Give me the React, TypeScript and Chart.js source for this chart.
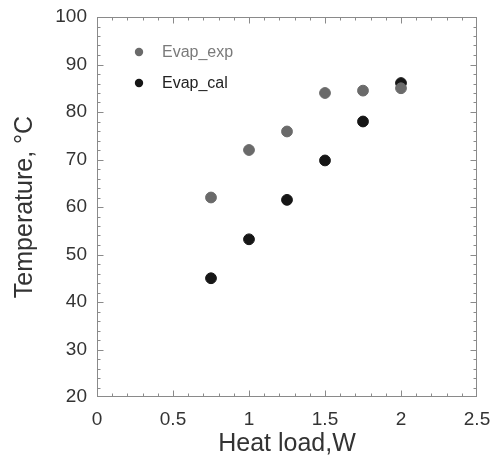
import React, { useEffect, useRef } from "react";
import { Chart, registerables } from "chart.js";

Chart.register(...registerables);

const heatLoad = [0.75, 1.0, 1.25, 1.5, 1.75, 2.0];
const evapExp = [62, 72, 75.9, 84, 84.5, 85];
const evapCal = [45, 53.2, 61.5, 69.8, 78, 86.1];

const seriesNames = ["Evap_exp", "Evap_cal"];
const seriesColors = ["#6a6a6a", "#161616"];
const legendTextColors = ["#7a7a7a", "#222222"];

const xMin = 0, xMax = 2.5, xMajor = 0.5, xMinor = 0.1;
const yMin = 20, yMax = 100, yMajor = 10, yMinor = 2;

const innerTicks = {
  id: "innerTicks",
  afterDraw(chart: any) {
    const { ctx, chartArea } = chart;
    const xs = chart.scales.x;
    const ys = chart.scales.y;
    const L = Math.round(chartArea.left) + 0.5;
    const R = Math.round(chartArea.right) - 0.5;
    const T = Math.round(chartArea.top) + 0.5;
    const B = Math.round(chartArea.bottom) - 0.5;
    ctx.save();
    ctx.strokeStyle = "#8a8a8a";
    ctx.lineWidth = 1;
    ctx.strokeRect(L, T, R - L, B - T);
    const nx = Math.round((xMax - xMin) / xMinor);
    for (let i = 1; i < nx; i++) {
      const v = xMin + i * xMinor;
      const major = Math.abs(v / xMajor - Math.round(v / xMajor)) < 1e-6;
      const len = major ? 6 : 3;
      const px = Math.round(xs.getPixelForValue(v)) + 0.5;
      ctx.beginPath();
      ctx.moveTo(px, B); ctx.lineTo(px, B - len);
      ctx.moveTo(px, T); ctx.lineTo(px, T + len);
      ctx.stroke();
    }
    const ny = Math.round((yMax - yMin) / yMinor);
    for (let i = 1; i < ny; i++) {
      const v = yMin + i * yMinor;
      const major = Math.abs(v / yMajor - Math.round(v / yMajor)) < 1e-6;
      const len = major ? 6 : 3;
      const py = Math.round(ys.getPixelForValue(v)) + 0.5;
      ctx.beginPath();
      ctx.moveTo(L, py); ctx.lineTo(L + len, py);
      ctx.moveTo(R, py); ctx.lineTo(R - len, py);
      ctx.stroke();
    }
    ctx.font = "16px 'Liberation Sans', Arial, sans-serif";
    ctx.textBaseline = "middle";
    ctx.textAlign = "left";
    const lx = chartArea.left + 42;
    const ly0 = chartArea.top + 35;
    const gap = 31;
    seriesNames.forEach((name, i) => {
      const y = ly0 + i * gap;
      ctx.fillStyle = seriesColors[i];
      ctx.beginPath();
      ctx.arc(lx, y, 4.2, 0, Math.PI * 2);
      ctx.fill();
      ctx.fillStyle = legendTextColors[i];
      ctx.fillText(name, lx + 23, y + 1);
    });
    ctx.restore();
  },
};

function noPad(scale: any) {
  scale.paddingTop = 0;
  scale.paddingBottom = 0;
  scale.paddingLeft = 0;
  scale.paddingRight = 0;
}

export default function App() {
  const ref = useRef<HTMLCanvasElement | null>(null);
  useEffect(() => {
    if (!ref.current) return;
    const font = "'Liberation Sans', Arial, sans-serif";
    const chart = new Chart(ref.current, {
      type: "scatter",
      data: {
        datasets: [
          {
            label: seriesNames[0],
            data: heatLoad.map((x, i) => ({ x, y: evapExp[i] })),
            backgroundColor: seriesColors[0],
            borderColor: seriesColors[0],
            pointRadius: 5.4,
            pointHoverRadius: 5.4,
          },
          {
            label: seriesNames[1],
            data: heatLoad.map((x, i) => ({ x, y: evapCal[i] })),
            backgroundColor: seriesColors[1],
            borderColor: seriesColors[1],
            pointRadius: 5.4,
            pointHoverRadius: 5.4,
          },
        ],
      },
      options: {
        animation: false,
        responsive: true,
        maintainAspectRatio: false,
        layout: { padding: { top: 17, right: 22, left: 0, bottom: 0 } },
        plugins: { legend: { display: false }, tooltip: { enabled: false } },
        scales: {
          x: {
            type: "linear",
            min: xMin,
            max: xMax,
            border: { display: false },
            grid: { display: false, drawTicks: false },
            ticks: {
              stepSize: xMajor,
              padding: 11,
              color: "#333333",
              font: { family: font, size: 19 },
              callback: (v: any) => String(Number(v)),
            },
            title: {
              display: true,
              text: "Heat load,W",
              color: "#333333",
              font: { family: font, size: 25 },
              padding: { top: 0, bottom: 0 },
            },
            afterFit(scale: any) {
              scale.height = 62;
              noPad(scale);
            },
          },
          y: {
            type: "linear",
            min: yMin,
            max: yMax,
            border: { display: false },
            grid: { display: false, drawTicks: false },
            ticks: {
              stepSize: yMajor,
              padding: 10,
              color: "#333333",
              font: { family: font, size: 19 },
              callback: (v: any) => String(Number(v)),
            },
            title: {
              display: true,
              text: "Temperature, °C",
              color: "#333333",
              font: { family: font, size: 25 },
              padding: { top: 10, bottom: 0 },
            },
            afterFit(scale: any) {
              scale.width = 97;
              noPad(scale);
            },
          },
        },
      },
      plugins: [innerTicks],
    });
    return () => chart.destroy();
  }, []);
  return (
    <div style={{ position: "absolute", left: 0, top: 0, width: 499, height: 459, background: "#fff" }}>
      <canvas ref={ref} />
    </div>
  );
}
